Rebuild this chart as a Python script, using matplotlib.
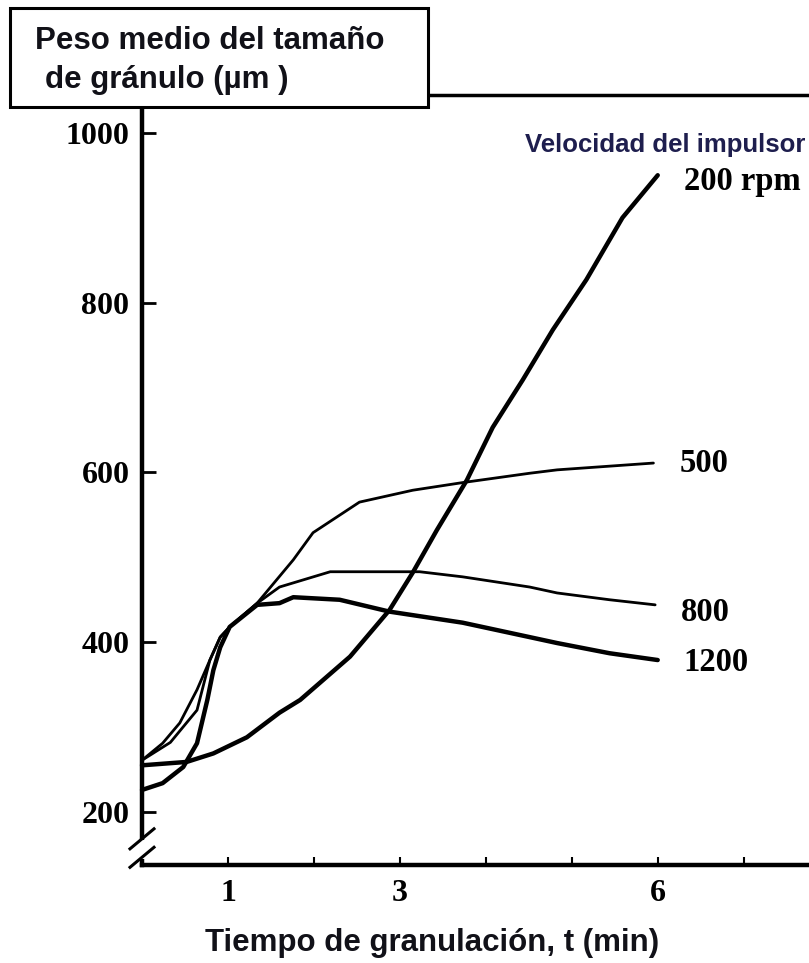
import matplotlib.pyplot as plt
from matplotlib.patches import Rectangle
from matplotlib.lines import Line2D

# %% Data
t_200 = [0.0, 0.52, 0.83, 1.22, 1.60, 1.84, 2.42, 2.88, 3.15, 3.43, 3.78, 4.08, 4.43, 4.78, 5.17, 5.59, 6.0]
d_200 = [255, 259, 269, 288, 317, 332, 383, 438, 482, 532, 591, 653, 709, 768, 827, 900, 950]

t_500 = [0.0, 0.24, 0.44, 0.64, 0.79, 0.91, 1.02, 1.34, 1.76, 1.99, 2.53, 3.15, 3.73, 4.51, 4.83, 5.95]
d_500 = [261, 281, 305, 344, 379, 406, 418, 446, 497, 529, 565, 579, 588, 599, 603, 611]

t_800 = [0.0, 0.33, 0.64, 0.79, 0.91, 1.02, 1.34, 1.60, 2.19, 3.23, 3.73, 4.51, 4.83, 5.44, 5.97]
d_800 = [261, 282, 320, 379, 406, 418, 446, 465, 483, 483, 477, 465, 458, 450, 444]

t_1200 = [0.0, 0.24, 0.48, 0.64, 0.76, 0.83, 0.91, 1.02, 1.34, 1.60, 1.76, 2.30, 2.88, 3.73, 4.51, 4.83, 5.44, 6.0]
d_1200 = [226, 234, 253, 281, 332, 367, 394, 418, 444, 446, 453, 450, 436, 423, 406, 399, 387, 379]

# name, time, size, line width, label offset (data units)
series = [
    ("200 rpm", t_200, d_200, 3.2, -7),
    ("500", t_500, d_500, 2.0, 0),
    ("800", t_800, d_800, 2.0, -9),
    ("1200", t_1200, d_1200, 3.2, -3),
]

y_ticks = [200, 400, 600, 800, 1000]
x_ticks = [1, 2, 3, 4, 5, 6, 7]
x_labels = ["1", "", "3", "", "", "6", ""]

# %% Figure
W, H = 809, 963
fig = plt.figure(figsize=(W / 100, H / 100), dpi=100)
ax = fig.add_axes([142 / W, 98 / H, 667 / W, 770 / H])

for name, t, d, lw, dy in series:
    ax.plot(t, d, color="black", lw=lw, solid_capstyle="round", solid_joinstyle="round",
            clip_on=False, zorder=3)
    ax.text(t[-1] + 0.3, d[-1] + dy, name, fontsize=23.5, fontweight="bold",
            family="Liberation Serif", va="center", ha="left")

ax.text(7.72, 986, "Velocidad del impulsor", fontsize=18.5, fontweight="bold",
        family="Liberation Sans", color="#1e1e4e", ha="right", va="center")

ax.set_xlim(0, 7.76)
ax.set_ylim(137.6, 1044.5)

ax.set_yticks(y_ticks)
ax.set_yticklabels([str(v) for v in y_ticks], fontsize=23, fontweight="bold",
                   family="Liberation Serif")
ax.set_xticks(x_ticks)
ax.set_xticklabels(x_labels, fontsize=23, fontweight="bold", family="Liberation Serif")
ax.tick_params(axis="y", direction="in", length=10, width=2, pad=9)
ax.tick_params(axis="x", direction="in", length=6, width=1.5, pad=10)

ax.spines["right"].set_visible(False)
ax.spines["left"].set_linewidth(3.2)
ax.spines["bottom"].set_linewidth(3.2)
ax.spines["top"].set_linewidth(2.5)

ax.set_xlabel("Tiempo de granulación, t (min)", fontsize=22.5, fontweight="bold",
              family="Liberation Sans", color="#111118")
ax.xaxis.set_label_coords(0.435, -0.082)

# axis break marks on the y axis
ax.add_line(Line2D([0, 0], [0.013, 0.028], transform=ax.transAxes, color="white",
                   lw=5, clip_on=False, zorder=5))
for yb in [0.034, 0.010]:
    ax.add_line(Line2D([-0.018, 0.018], [yb - 0.013, yb + 0.013], transform=ax.transAxes,
                       color="black", lw=2.2, clip_on=False, zorder=6))

# title box at top left
box = Rectangle((10 / W, 1 - 107 / H), 418 / W, 99 / H, transform=fig.transFigure,
                facecolor="white", edgecolor="black", lw=2.2, zorder=10)
fig.add_artist(box)
fig.text(35 / W, 1 - 41 / H, "Peso medio del tamaño", fontsize=22.5, fontweight="bold",
         family="Liberation Sans", va="center", ha="left", color="#111118", zorder=11)
fig.text(45 / W, 1 - 80 / H, "de gránulo (µm )", fontsize=22.5, fontweight="bold",
         family="Liberation Sans", va="center", ha="left", color="#111118", zorder=11)

fig.savefig("out.png", dpi=100)
